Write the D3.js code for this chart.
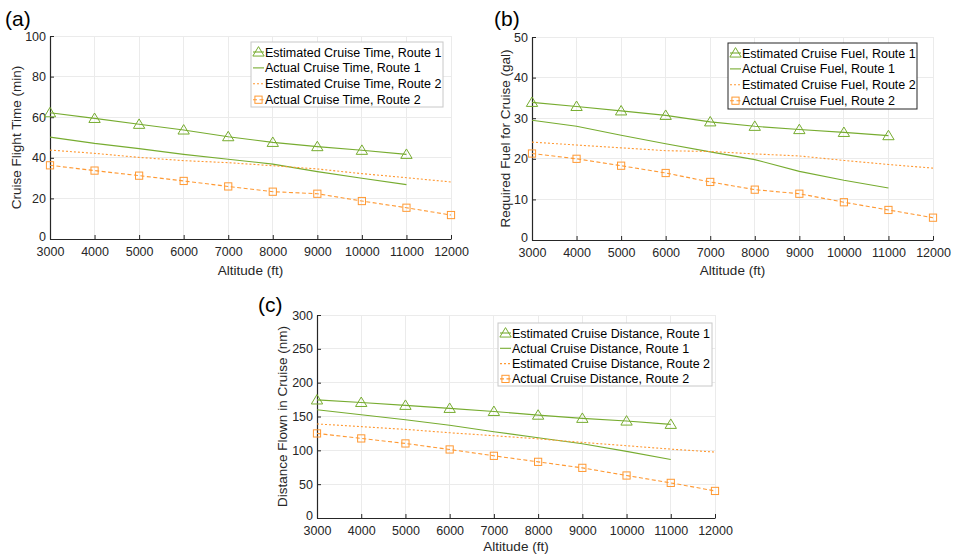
<!DOCTYPE html>
<html>
<head>
<meta charset="utf-8">
<script src="https://cdn.jsdelivr.net/npm/d3@7"></script>
<style>
  body { margin: 0; background: #fff; }
  svg { display: block; font-family: "Liberation Sans", Arial, Helvetica, sans-serif; }
</style>
</head>
<body>
<svg id="chart" width="954" height="557"></svg>
<script>
// ---- data ----
const altitudes = [3000, 4000, 5000, 6000, 7000, 8000, 9000, 10000, 11000, 12000];
const altitudesRoute1 = [3000, 4000, 5000, 6000, 7000, 8000, 9000, 10000, 11000];
const xTicks = [3000, 4000, 5000, 6000, 7000, 8000, 9000, 10000, 11000, 12000];

// (a) Cruise flight time (min)
const timeEstR1 = [62.2, 59.4, 56.5, 53.7, 50.4, 47.6, 45.5, 43.7, 41.7];
const timeActR1 = [50.2, 47.1, 44.5, 41.7, 39.3, 36.9, 33.2, 29.9, 26.8];
const timeEstR2 = [43.8, 42.2, 40.2, 38.6, 37.6, 36.1, 34.5, 32.2, 30.2, 28.1];
const timeActR2 = [36.3, 33.7, 31.2, 28.6, 25.9, 23.3, 22.3, 18.7, 15.4, 11.8];
const timeTicks = [0, 20, 40, 60, 80, 100];

// (b) Required fuel for cruise (gal)
const fuelEstR1 = [33.9, 32.9, 31.8, 30.7, 29.1, 28.0, 27.2, 26.5, 25.7];
const fuelActR1 = [29.5, 28.0, 25.8, 23.7, 21.7, 19.8, 16.9, 14.7, 12.8];
const fuelEstR2 = [24.1, 23.4, 22.7, 22.0, 21.8, 21.2, 20.7, 19.6, 18.6, 17.7];
const fuelActR2 = [21.3, 20.0, 18.3, 16.5, 14.3, 12.4, 11.4, 9.3, 7.4, 5.5];
const fuelTicks = [0, 10, 20, 30, 40, 50];

// (c) Distance flown in cruise (nm)
const distEstR1 = [174.5, 170.8, 166.5, 162.0, 157.5, 152.0, 147.3, 143.3, 138.4];
const distActR1 = [160.0, 152.7, 145.3, 137.0, 127.5, 118.6, 109.7, 98.4, 86.5];
const distEstR2 = [139.0, 135.0, 131.0, 126.0, 121.6, 117.0, 111.7, 106.8, 101.8, 97.4];
const distActR2 = [125.0, 117.6, 110.2, 101.3, 91.9, 83.0, 74.1, 62.8, 51.9, 40.0];
const distTicks = [0, 50, 100, 150, 200, 250, 300];

const legendA = ["Estimated Cruise Time, Route 1", "Actual Cruise Time, Route 1", "Estimated Cruise Time, Route 2", "Actual Cruise Time, Route 2"];
const legendB = ["Estimated Cruise Fuel, Route 1", "Actual Cruise Fuel, Route 1", "Estimated Cruise Fuel, Route 2", "Actual Cruise Fuel, Route 2"];
const legendC = ["Estimated Cruise Distance, Route 1", "Actual Cruise Distance, Route 1", "Estimated Cruise Distance, Route 2", "Actual Cruise Distance, Route 2"];

// ---- styling ----
const GREEN = "#77AC30";
const ORANGE = "#FF9933";
const seriesStyles = [
  { color: GREEN, dash: null, marker: "triangle" },
  { color: GREEN, dash: null, marker: null },
  { color: ORANGE, dash: "2,2", marker: null },
  { color: ORANGE, dash: "4,2.5", marker: "square" }
];

const panels = [
  { label: "(a)", labelX: 5, labelY: 26,
    left: 50, right: 451, top: 36, bottom: 239,
    yMax: 100, yTicks: timeTicks, yLabel: "Cruise Flight Time (min)", yLabelX: 21,
    series: [[altitudesRoute1, timeEstR1], [altitudesRoute1, timeActR1], [altitudes, timeEstR2], [altitudes, timeActR2]],
    legend: legendA, lx: 251, ly: 42, lw: 192, lh: 65, lstep: 15.9, lborder: "#c8c8c8", xLabelY: 275 },
  { label: "(b)", labelX: 494, labelY: 26,
    left: 532, right: 933, top: 37, bottom: 240,
    yMax: 50, yTicks: fuelTicks, yLabel: "Required Fuel for Cruise (gal)", yLabelX: 510,
    series: [[altitudesRoute1, fuelEstR1], [altitudesRoute1, fuelActR1], [altitudes, fuelEstR2], [altitudes, fuelActR2]],
    legend: legendB, lx: 728, ly: 43, lw: 189, lh: 66, lstep: 15.9, lborder: "#262626", xLabelY: 275 },
  { label: "(c)", labelX: 258, labelY: 312,
    left: 317, right: 715, top: 315, bottom: 518,
    yMax: 300, yTicks: distTicks, yLabel: "Distance Flown in Cruise (nm)", yLabelX: 287,
    series: [[altitudesRoute1, distEstR1], [altitudesRoute1, distActR1], [altitudes, distEstR2], [altitudes, distActR2]],
    legend: legendC, lx: 498, ly: 323, lw: 214, lh: 63, lstep: 15.3, lborder: "#c8c8c8", xLabelY: 551 }
];

const svg = d3.select("#chart");

function drawMarker(g, type, cx, cy, color) {
  if (type === "triangle") {
    const s = 5.4;
    g.append("path")
      .attr("d", `M${cx},${cy - s} L${cx + s * 1.05},${cy + s * 0.75} L${cx - s * 1.05},${cy + s * 0.75} Z`)
      .attr("fill", "none").attr("stroke", color).attr("stroke-width", 1);
  } else if (type === "square") {
    const s = 3.6;
    g.append("rect")
      .attr("x", cx - s).attr("y", cy - s).attr("width", 2 * s).attr("height", 2 * s)
      .attr("fill", "none").attr("stroke", color).attr("stroke-width", 1);
  }
}

panels.forEach(p => {
  const g = svg.append("g");
  const x = d3.scaleLinear().domain([3000, 12000]).range([p.left, p.right]);
  const y = d3.scaleLinear().domain([0, p.yMax]).range([p.bottom, p.top]);

  // grid
  g.append("g").selectAll("line").data(xTicks).join("line")
    .attr("x1", d => x(d)).attr("x2", d => x(d)).attr("y1", p.top).attr("y2", p.bottom)
    .attr("stroke", "#ebebeb").attr("stroke-width", 1).attr("shape-rendering", "crispEdges");
  g.append("g").selectAll("line").data(p.yTicks).join("line")
    .attr("x1", p.left).attr("x2", p.right).attr("y1", d => y(d)).attr("y2", d => y(d))
    .attr("stroke", "#ebebeb").attr("stroke-width", 1).attr("shape-rendering", "crispEdges");

  // axes
  const xAxis = d3.axisBottom(x).tickValues(xTicks).tickFormat(d3.format("d")).tickSizeInner(-4).tickSizeOuter(0).tickPadding(8);
  const yAxis = d3.axisLeft(y).tickValues(p.yTicks).tickFormat(d3.format("d")).tickSizeInner(-4).tickSizeOuter(0).tickPadding(4);
  const gx = g.append("g").attr("transform", `translate(0,${p.bottom})`).call(xAxis);
  const gy = g.append("g").attr("transform", `translate(${p.left},0)`).call(yAxis);
  [gx, gy].forEach(a => {
    a.select(".domain").attr("stroke", "#262626").attr("stroke-width", 1.2);
    a.selectAll(".tick line").attr("stroke", "#262626");
    a.selectAll(".tick text").attr("fill", "#262626").style("font-size", "12.5px")
      .style("font-family", '"Liberation Sans", Arial, sans-serif');
  });
  // nudge the y "0" label up slightly so it does not collide with the first x label
  gy.selectAll(".tick text").filter(d => d === 0).attr("dy", "0.1em");

  // series
  p.series.forEach((s, i) => {
    const st = seriesStyles[i];
    const pts = s[0].map((a, k) => [a, s[1][k]]);
    const line = d3.line().x(d => x(d[0])).y(d => y(d[1]));
    g.append("path").datum(pts).attr("d", line)
      .attr("fill", "none").attr("stroke", st.color).attr("stroke-width", 1.1)
      .attr("stroke-dasharray", st.dash);
    if (st.marker) {
      const mg = g.append("g");
      pts.forEach(d => drawMarker(mg, st.marker, x(d[0]), y(d[1]), st.color));
    }
  });

  // legend
  const lg = g.append("g");
  lg.append("rect").attr("x", p.lx).attr("y", p.ly).attr("width", p.lw).attr("height", p.lh)
    .attr("fill", "#fff").attr("stroke", p.lborder).attr("stroke-width", 1);
  p.legend.forEach((t, i) => {
    const st = seriesStyles[i];
    const cy = p.ly + 10 + i * p.lstep;
    const x0 = p.lx + 2, x1 = p.lx + 13;
    lg.append("line").attr("x1", x0).attr("x2", x1).attr("y1", cy).attr("y2", cy)
      .attr("stroke", st.color).attr("stroke-width", 1.1).attr("stroke-dasharray", st.dash);
    if (st.marker) drawMarker(lg, st.marker, (x0 + x1) / 2, cy, st.color);
    lg.append("text").attr("x", p.lx + 14).attr("y", cy + 4.5).text(t)
      .attr("fill", "#000").style("font-size", "12.5px");
  });

  // labels
  g.append("text").attr("x", (p.left + p.right) / 2).attr("y", p.xLabelY)
    .attr("text-anchor", "middle").attr("fill", "#262626").style("font-size", "13.5px").text("Altitude (ft)");
  g.append("text").attr("transform", `translate(${p.yLabelX},${(p.top + p.bottom) / 2}) rotate(-90)`)
    .attr("text-anchor", "middle").attr("fill", "#262626").style("font-size", "13.5px").text(p.yLabel);
  g.append("text").attr("x", p.labelX).attr("y", p.labelY).attr("fill", "#000").style("font-size", "21px").text(p.label);
});
</script>
</body>
</html>
